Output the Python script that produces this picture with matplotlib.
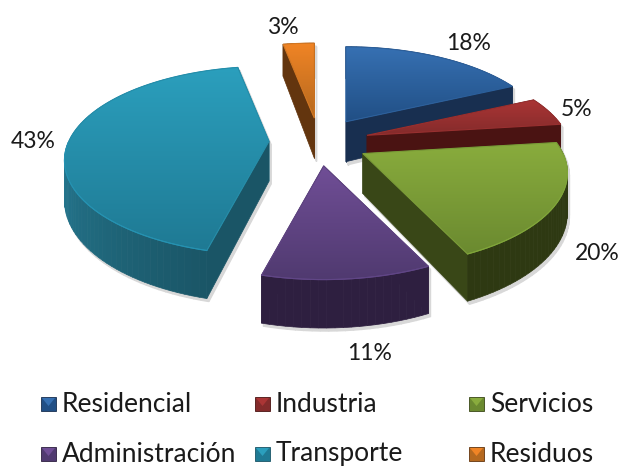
import numpy as np
import matplotlib
matplotlib.use('Agg')
import matplotlib.pyplot as plt
from matplotlib.patches import Polygon, Rectangle
from matplotlib.colors import to_rgb

categories = ['Residencial', 'Industria', 'Servicios', 'Administración', 'Transporte', 'Residuos']
values = [18, 5, 20, 11, 43, 3]
tops_hi = ['#3670b2', '#ab3535', '#89ac3d', '#704e96', '#2b9fbd', '#f08425']
tops_lo = ['#214f85', '#842b2b', '#6b8a30', '#503a70', '#1f7a94', '#b5691f']
sides = ['#182f50', '#4a1312', '#394717', '#2e1f40', '#1a5566', '#63350e']
label_xy = [(469, 43), (577, 110), (597, 253), (370, 354), (33, 142), (283, 28)]

# pie layout, in pixels of the picture
cx, cy = 319, 142
explode_x, explode_y = 50, 24
dist, fx, gy = 4.87, 975, 440
depth = 40
rim_depth = 38.5

plt.rcParams['font.family'] = ['Lato', 'DejaVu Sans']
fig = plt.figure(figsize=(6.22, 4.66), dpi=100)
ax = fig.add_axes([0, 0, 1, 1])
ax.set_xlim(0, 622)
ax.set_ylim(466, 0)
ax.axis('off')

def project(theta):
    # theta clockwise from the top, back of the pie is smaller
    u = np.sin(theta)
    v = -np.cos(theta)
    k = dist - v
    return fx * u / k, gy * v / k, rim_depth * dist / k

zo = 10
edges = np.cumsum([0] + values) / sum(values) * 2 * np.pi
for i in [5, 0, 1, 4, 3, 2]:
    a0, a1 = edges[i], edges[i + 1]
    mid = (a0 + a1) / 2
    ax0 = cx + explode_x * np.sin(mid)
    ay0 = cy - explode_y * np.cos(mid)
    th = np.linspace(a0, a1, max(int(values[i] * 2), 8))
    px, py, pd = project(th)
    rx = ax0 + px
    ry = ay0 + py
    xs = np.r_[ax0, rx]
    ys = np.r_[ay0, ry]
    ds = np.r_[depth, pd]
    n = len(xs)
    quads = []
    for j in range(n):
        k = (j + 1) % n
        q = [(xs[j], ys[j]), (xs[k], ys[k]), (xs[k], ys[k] + ds[k]), (xs[j], ys[j] + ds[j])]
        quads.append(((ys[j] + ys[k]) / 2, j, q))
    quads.sort(key=lambda t: t[0])
    side = np.array(to_rgb(sides[i]))
    # soft shadow under the slice
    for _, j, q in quads:
        ax.add_patch(Polygon(np.array(q) + [2, 3], fc='#d8d8d8', ec='#d8d8d8', lw=1, zorder=1))
    for _, j, q in quads:
        c = side
        if i == 4 and j == n - 1:
            c = np.array(to_rgb('#22809a'))
        elif i == 4 and j > 0:
            c = side * (1 + 1.0 * (j / n))
        elif i == 2 and j > 0 and j < n - 1:
            c = side * 0.8
        ax.add_patch(Polygon(q, fc=np.clip(c, 0, 1), ec=np.clip(c, 0, 1), lw=0.5, zorder=zo))
        zo += 1
    # top of the slice with a vertical gradient
    hi = np.array(to_rgb(tops_hi[i]))
    lo = np.array(to_rgb(tops_lo[i]))
    t = np.linspace(0, 1, 64).reshape(-1, 1, 1)
    grad = hi * (1 - t) + lo * t
    pts = np.c_[xs, ys]
    im = ax.imshow(grad, extent=[xs.min(), xs.max(), ys.max(), ys.min()], aspect='auto', zorder=zo, interpolation='bilinear')
    patch = Polygon(pts, transform=ax.transData)
    im.set_clip_path(patch)
    zo += 1
    ax.add_patch(Polygon(pts, fc='none', ec=(hi + lo) / 2, lw=0.8, zorder=zo))
    zo += 1
    # thin bevel on the front of the rim only
    front = -np.cos(th) > 0
    ax.plot(rx[front], ry[front], color=np.clip(lo * 1.2, 0, 1), lw=0.8, zorder=zo)
    zo += 1

ax.set_xlim(0, 622)
ax.set_ylim(466, 0)

for v, (x, y) in zip(values, label_xy):
    ax.text(x, y, f'{v}%', fontsize=16.5, color='#1a1a1a', ha='center', va='center', zorder=zo)

# legend, 3 columns by 2 rows
col_x = [41, 255, 469]
row_y = [404, 454]
for i, name in enumerate(categories):
    x = col_x[i % 3]
    y = row_y[i // 3]
    ax.add_patch(Rectangle((x, y - 7), 15, 14, fc=tops_lo[i], ec=sides[i], lw=0.6, zorder=zo))
    ax.add_patch(Polygon([(x + 1, y - 6), (x + 14, y - 6), (x + 7.5, y + 2)], fc=tops_hi[i], ec='none', zorder=zo + 1))
    ax.text(x + 21, y, name, fontsize=19, color='#1a1a1a', ha='left', va='center', zorder=zo)

fig.savefig('out.png', dpi=100)
